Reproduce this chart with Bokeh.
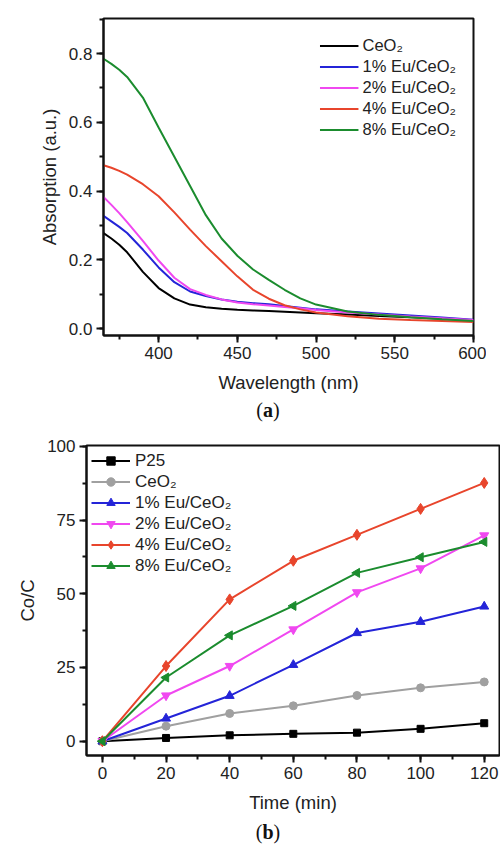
import math
from bokeh.plotting import figure
from bokeh.models import Range1d, SingleIntervalTicker, PrintfTickFormatter, Div
from bokeh.layouts import column
from bokeh.embed import file_html
from bokeh.resources import INLINE

# ---------------- data (a) ----------------
wavelength = [365, 370, 375, 380, 390, 400, 410, 420, 430, 440, 450, 460, 470, 480, 490, 500, 520, 540, 560, 580, 600]
abs_ceo2 = [0.278, 0.262, 0.244, 0.222, 0.165, 0.118, 0.088, 0.070, 0.062, 0.058, 0.055, 0.053, 0.051, 0.049, 0.047, 0.045, 0.041, 0.037, 0.033, 0.029, 0.024]
abs_eu1 = [0.328, 0.312, 0.296, 0.278, 0.230, 0.178, 0.135, 0.108, 0.095, 0.085, 0.078, 0.074, 0.071, 0.066, 0.061, 0.056, 0.050, 0.044, 0.038, 0.032, 0.026]
abs_eu2 = [0.383, 0.360, 0.336, 0.310, 0.255, 0.198, 0.148, 0.115, 0.098, 0.085, 0.076, 0.071, 0.067, 0.063, 0.059, 0.054, 0.047, 0.041, 0.035, 0.030, 0.025]
abs_eu4 = [0.475, 0.468, 0.459, 0.448, 0.420, 0.385, 0.338, 0.288, 0.240, 0.196, 0.152, 0.113, 0.087, 0.068, 0.056, 0.047, 0.036, 0.029, 0.025, 0.022, 0.019]
abs_eu8 = [0.785, 0.770, 0.753, 0.732, 0.672, 0.585, 0.500, 0.415, 0.330, 0.262, 0.212, 0.172, 0.142, 0.113, 0.088, 0.070, 0.050, 0.040, 0.033, 0.027, 0.022]
labels_a = ["CeO\u2082", "1% Eu/CeO\u2082", "2% Eu/CeO\u2082", "4% Eu/CeO\u2082", "8% Eu/CeO\u2082"]

# ---------------- data (b) ----------------
time_min = [0, 20, 40, 60, 80, 100, 120]
c_p25 = [0, 1.1, 2.0, 2.5, 2.9, 4.2, 6.1]
c_ceo2 = [0, 5.1, 9.4, 12.0, 15.5, 18.1, 20.1]
c_eu1 = [0, 7.7, 15.4, 25.9, 36.7, 40.5, 45.7]
c_eu2 = [0, 15.5, 25.5, 37.9, 50.5, 58.6, 69.8]
c_eu4 = [0, 25.5, 48.1, 61.2, 70.0, 78.8, 87.6]
c_eu8 = [0, 21.6, 35.9, 45.9, 57.1, 62.4, 67.6]
labels_b = ["P25", "CeO\u2082", "1% Eu/CeO\u2082", "2% Eu/CeO\u2082", "4% Eu/CeO\u2082", "8% Eu/CeO\u2082"]

FONT = "Liberation Sans"
C_BLACK = "#000000"
C_GRAY = "#a0a0a0"
C_BLUE = "#2424d8"
C_MAG = "#f048f0"
C_RED = "#e8452c"
C_GREEN = "#1b8c2e"


def style(p, xint, yint, yfmt=None):
    p.grid.visible = False
    p.outline_line_color = "#111111"
    p.outline_line_width = 2
    p.background_fill_color = "white"
    p.border_fill_color = "white"
    for ax in (p.xaxis[0], p.yaxis[0]):
        ax.axis_line_width = 2
        ax.axis_line_color = "#111111"
        ax.major_tick_line_width = 2
        ax.minor_tick_line_width = 2
        ax.major_tick_line_color = "#111111"
        ax.minor_tick_line_color = "#111111"
        ax.major_tick_in = 0
        ax.major_tick_out = 7
        ax.minor_tick_in = 0
        ax.minor_tick_out = 4
        ax.major_label_text_font = FONT
        ax.major_label_text_font_size = "17px"
        ax.major_label_text_color = "#222222"
        ax.axis_label_text_font = FONT
        ax.axis_label_text_font_size = "18.5px"
        ax.axis_label_text_font_style = "normal"
        ax.axis_label_text_color = "#222222"
        ax.major_label_standoff = 4
    p.xaxis[0].ticker = SingleIntervalTicker(interval=xint, num_minor_ticks=2)
    p.yaxis[0].ticker = SingleIntervalTicker(interval=yint, num_minor_ticks=2)
    if yfmt:
        p.yaxis[0].formatter = PrintfTickFormatter(format=yfmt)
    p.xaxis[0].axis_label_standoff = 10
    p.yaxis[0].axis_label_standoff = 6


def legend_style(lg, loc, fs, mar, standoff):
    lg.location = loc
    lg.border_line_color = None
    lg.background_fill_alpha = 0
    lg.label_text_font = FONT
    lg.label_text_font_size = fs
    lg.label_text_color = "#222222"
    lg.glyph_width = 39
    lg.glyph_height = 21
    lg.label_height = 21
    lg.spacing = 0
    lg.padding = 0
    lg.margin = mar
    lg.label_standoff = standoff


# ---------------- panel (a) ----------------
p1 = figure(width=486, height=397, x_range=Range1d(365, 600), y_range=Range1d(-0.02, 0.902),
            output_backend="svg", toolbar_location=None,
            min_border_left=103, min_border_right=13, min_border_top=18, min_border_bottom=62,
            x_axis_label="Wavelength (nm)", y_axis_label="Absorption (a.u.)")
style(p1, 50, 0.2, "%.1f")

for ys, col, lab in zip([abs_ceo2, abs_eu1, abs_eu2, abs_eu4, abs_eu8],
                        [C_BLACK, C_BLUE, C_MAG, C_RED, C_GREEN], labels_a):
    p1.line(wavelength, ys, line_color=col, line_width=2, legend_label=lab)

legend_style(p1.legend[0], "top_right", "16.5px", 17, 4)

# ---------------- panel (b) ----------------
p2 = figure(width=500, height=394, x_range=Range1d(-5, 124.8), y_range=Range1d(-4.85, 100.3),
            output_backend="svg", toolbar_location=None,
            min_border_left=86, min_border_right=1, min_border_top=22, min_border_bottom=62,
            x_axis_label="Time (min)", y_axis_label="Co/C")
style(p2, 20, 25)

series_b = [c_p25, c_ceo2, c_eu1, c_eu2, c_eu4, c_eu8]
colors_b = [C_BLACK, C_GRAY, C_BLUE, C_MAG, C_RED, C_GREEN]
markers_b = ["square", "circle", "triangle", "inverted_triangle", "diamond", "triangle"]
sizes_b = [7, 8, 9, 9, 11, 9]
angles_b = [0, 0, 0, 0, 0, math.pi / 2]
for ys, col, mk, sz, ang, lab in zip(series_b, colors_b, markers_b, sizes_b, angles_b, labels_b):
    p2.line(time_min, ys, line_color=col, line_width=2, legend_label=lab)
    p2.scatter(time_min, ys, marker=mk, size=sz, angle=ang, fill_color=col, line_color=col,
               legend_label=lab)

legend_style(p2.legend[0], "top_left", "17px", 5, 5)


def caption(letter, h, w):
    html = ('<div style="position:relative; left:%dpx; width:%dpx; text-align:center; '
            'font-family:\'Liberation Serif\'; font-size:20px; line-height:%dpx; color:#111;">'
            '(<b>%s</b>)</div>' % (268 - w // 2, w, h, letter))
    return Div(text=html, width=w, height=h, margin=0)


layout = column(column(p1, caption("a", 26, 486)), column(p2, caption("b", 30, 500)), spacing=0)

open("out.html", "w").write(file_html(layout, INLINE))
